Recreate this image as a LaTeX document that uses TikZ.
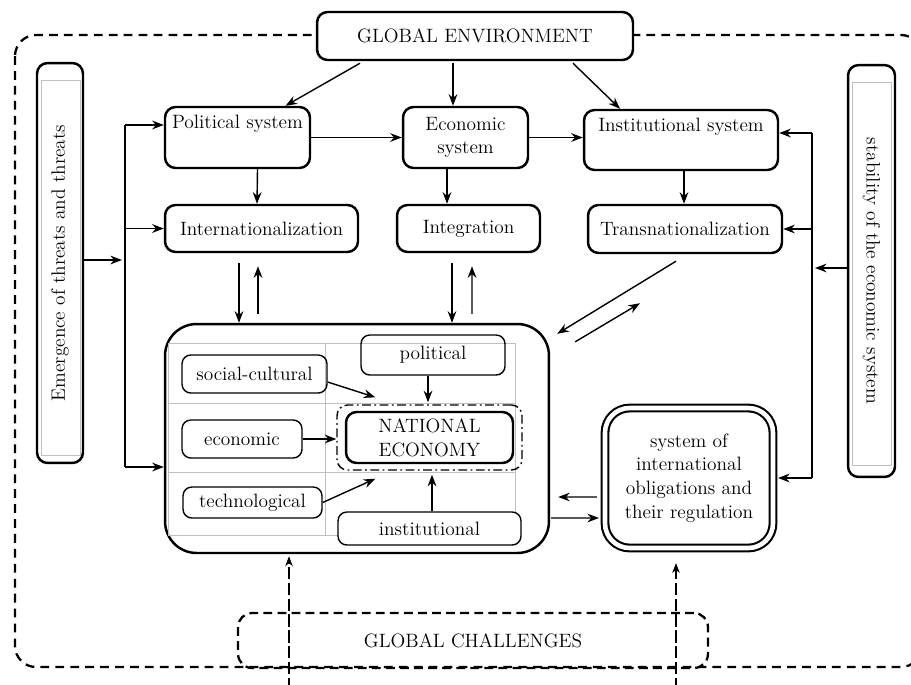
\documentclass[tikz,border=0pt]{standalone}
\usepackage{fontspec}
\usepackage{tikz}
\usetikzlibrary{arrows.meta, positioning, calc}

\begin{document}
\begin{tikzpicture}[
    x=0.02cm, y=-0.02cm,
    >=Stealth,
    every node/.style={font=\fontsize{11}{13.5}\selectfont},
    % Styles
    mainbox/.style={rectangle, draw=black, fill=white, rounded corners=6pt, line width=1.4pt, align=center, inner sep=1pt},
    sidebox/.style={rectangle, draw=black, rounded corners=6pt, line width=1.4pt, align=center, inner sep=1pt},
    factorbox/.style={rectangle, draw=black, rounded corners=5pt, line width=0.8pt, align=center, inner sep=1pt},
    challengebox/.style={rectangle, draw=black, rounded corners=8pt, line width=1.3pt, dash pattern=on 5pt off 3pt, align=center},
    arrowstyle/.style={->, line width=0.8pt},
    dasharrow/.style={->, line width=0.6pt, dash pattern=on 7pt off 2pt},
    gridline/.style={draw=black!25, line width=0.5pt},
]
\useasboundingbox (0,0) rectangle (911,684);

% === OUTER FRAME ===
\draw[line width=1.3pt, dash pattern=on 5pt off 3.5pt, rounded corners=12pt] (15,35) rectangle (922,667);

% === GLOBAL ENVIRONMENT ===
\node[mainbox, minimum width=6.32cm, minimum height=0.96cm] (genv) at (475,36) {GLOBAL ENVIRONMENT};

% === SIDE BOXES ===
\node[sidebox, rotate=90, minimum width=8cm, minimum height=0.92cm] (emerg) at (60,263) {Emergence of threats and threats};
\draw[gridline] (41,80) rectangle (80,455);
\node[sidebox, rotate=-90, minimum width=8.24cm, minimum height=0.94cm] (stab) at (871.5,271) {stability of the economic system};
\draw[gridline] (852,82) rectangle (891,465);

% === SYSTEMS ===
\node[mainbox, minimum width=2.9cm, minimum height=1.22cm] (polit) at (237.5,137.5) {Political system\\\strut};
\node[mainbox, minimum width=2.5cm, minimum height=1.22cm] (econ) at (465.5,137.5) {Economic\\system};
\node[mainbox, minimum width=3.88cm, minimum height=1.2cm] (inst) at (681,140) {Institutional system\\\strut};

\node[mainbox, minimum width=3.86cm, minimum height=0.94cm] (inter) at (261.5,228.5) {Internationalization};
\node[mainbox, minimum width=2.86cm, minimum height=0.94cm] (integ) at (468.5,228.5) {Integration};
\node[mainbox, minimum width=3.88cm, minimum height=0.96cm] (trans) at (685,229) {Transnationalization};

\draw[arrowstyle] ($(genv.south)+(-115,2)$) -- ($(polit.north)+(48,0)$);
\draw[arrowstyle] ($(genv.south)+(-22,2)$) -- ($(econ.north)+(-12.5,0)$);
\draw[arrowstyle] ($(genv.south)+(98,2)$) -- ($(inst.north)+(-61,0)$);
\draw[arrowstyle] (polit.east) -- (econ.west);
\draw[arrowstyle] (econ.east) -- (econ.east -| inst.west);
\draw[arrowstyle] ($(polit.south)+(20,0)$) -- ($(inter.north)+(-4.5,0)$);
\draw[arrowstyle] ($(econ.south)+(-18.5,0)$) -- ($(integ.north)+(-21.5,0)$);
\draw[arrowstyle] ($(inst.south)+(3,0)$) -- ($(trans.north)+(-1,0)$);

% === NATIONAL ECONOMY BLOCK ===
\node[sidebox, rounded corners=18pt, minimum width=7.68cm, minimum height=4.58cm] (nat) at (357,438.5) {};
\draw[gridline] (168,343) rectangle (515,535);
\draw[gridline] (325,343) -- (325,535);
\draw[gridline] (168,403) -- (515,403);
\draw[gridline] (168,472) -- (515,472);

\node[factorbox, minimum width=2.9cm, minimum height=0.76cm] (soc) at (254.5,374) {social-cultural};
\node[factorbox, minimum width=2.88cm, minimum height=0.8cm] (polf) at (433,355) {political};
\node[factorbox, minimum width=2.4cm, minimum height=0.76cm] (ecof) at (242,439) {economic};
\node[factorbox, minimum width=2.78cm, minimum height=0.62cm] (tech) at (252.5,502.5) {technological};
\node[factorbox, fill=white, minimum width=3.66cm, minimum height=0.66cm] (instf) at (429.5,528.5) {institutional};
\node[rectangle, draw=black, rounded corners=6pt, line width=0.8pt, dash pattern=on 5pt off 2pt on 1pt off 2pt, minimum width=3.7cm, minimum height=1.3cm] (natframe) at (429.5,437.5) {};
\node[mainbox, minimum width=3.34cm, minimum height=1.02cm] (natec) at (429.5,437.5) {NATIONAL\\ECONOMY};

\draw[arrowstyle] ($(soc.east)+(0,8)$) -- ($(natframe.north west)+(39,-7)$);
\draw[arrowstyle] ($(polf.south)+(-5,0)$) -- ($(natframe.north)+(-1.5,-2)$);
\draw[arrowstyle] (ecof.east) -- (ecof.east -| natframe.west);
\draw[arrowstyle] (tech.east) -- ($(natframe.south west)+(39,8)$);
\draw[arrowstyle] ($(instf.north)+(2.5,0)$) -- ($(natframe.south)+(2.5,4)$);

% === INTERNATIONAL OBLIGATIONS ===
\node[sidebox, double, double distance=2.6pt, line width=1.2pt, rounded corners=14pt, minimum width=3.36cm, minimum height=2.8cm] (oblig) at (689,478) {system of\\international\\obligations and\\their regulation};

% === LINKS TO NATIONAL ECONOMY ===
\draw[arrowstyle] ($(inter.south)+(-22.5,10)$) -- ($(nat.north)+(-118,0)$);
\draw[arrowstyle] ($(nat.north)+(-99,-9)$) -- ($(inter.south)+(-3.5,13)$);
\draw[arrowstyle] ($(integ.south)+(-16.5,10)$) -- ($(nat.north)+(95,0)$);
\draw[arrowstyle] ($(nat.north)+(115,-9)$) -- ($(integ.south)+(3.5,13)$);
\draw[arrowstyle] ($(trans.south)+(-9,7)$) -- ($(nat.north east)+(7,11)$);
\draw[arrowstyle] ($(nat.north east)+(25,19)$) -- ($(trans.south)+(-45,49)$);
\draw[arrowstyle] ($(oblig.west)+(-7,19)$) -- ($(nat.east)+(8,58.5)$);
\draw[arrowstyle] ($(nat.east)+(1,79.5)$) -- ($(oblig.west)+(-5,40)$);

% === LEFT BUS ===
\coordinate (busLT) at (125,125);
\coordinate (busLB) at (125,467);
\draw[line width=0.8pt] (busLT) -- (busLB);
\draw[arrowstyle] (busLT) -- (busLT -| polit.west);
\draw[arrowstyle] (busLT |- inter.west) -- (inter.west);
\draw[arrowstyle] (busLB) -- (busLB -| nat.west);
\draw[arrowstyle] ($(emerg.south)+(0,-3)$) -- ($(busLT |- emerg.south)+(-3,-3)$);

% === RIGHT BUS ===
\coordinate (busRT) at (812,133);
\coordinate (busRB) at (812,478);
\draw[line width=0.8pt] (busRT) -- (busRB);
\draw[arrowstyle] (busRT) -- (busRT -| inst.east);
\draw[arrowstyle] (busRT |- trans.east) -- (trans.east);
\draw[arrowstyle] (busRB) -- ($(busRB -| oblig.east)+(4,0)$);
\draw[arrowstyle] ($(stab.south)+(0,-3)$) -- ($(busRT |- stab.south)+(3,-3)$);

% === GLOBAL CHALLENGES ===
\node[challengebox, minimum width=9.4cm, minimum height=1.1cm] (chall) at (473,640.5) {GLOBAL CHALLENGES};
\coordinate (chalL) at (289,690);
\coordinate (chalR) at (676,690);
\draw[dasharrow] (chalL) -- ($(nat.south)+(-68,2)$);
\draw[dasharrow] (chalR) -- ($(oblig.south)+(-13,14)$);
\end{tikzpicture}
\end{document}
